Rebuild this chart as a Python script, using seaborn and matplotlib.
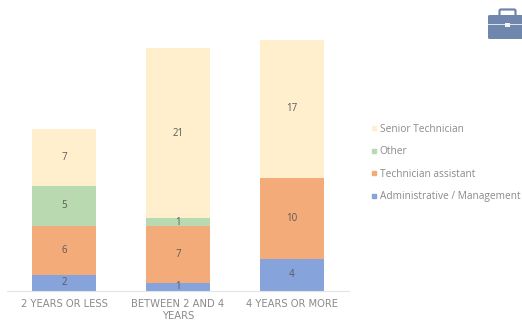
import matplotlib
matplotlib.use("Agg")
import matplotlib.pyplot as plt
from matplotlib.patches import FancyBboxPatch, Rectangle
from matplotlib.lines import Line2D
import numpy as np
import seaborn as sns

categories = ["2 YEARS OR LESS", "BETWEEN 2 AND 4\nYEARS", "4 YEARS OR MORE"]
administrative = [2, 1, 4]
technician_assistant = [6, 7, 10]
other = [5, 1, 0]
senior_technician = [7, 21, 17]

series_names = ["Administrative / Management", "Technician assistant", "Other", "Senior Technician"]
series_values = [administrative, technician_assistant, other, senior_technician]
series_colors = ["#86A3DC", "#F3AB7A", "#B9DAB0", "#FFEFCC"]

sns.set_theme(style="white")
plt.rcParams["font.family"] = ["Open Sans", "DejaVu Sans"]

W, H = 522, 323
fig = plt.figure(figsize=(W / 100, H / 100), dpi=100)
left, right, base, top = 7, 349, 291, 30
ax = fig.add_axes([left / W, 1 - base / H, (right - left) / W, (base - top) / H])

bottom = np.zeros(3)
for name, vals, col in zip(series_names, series_values, series_colors):
    vals = np.array(vals, dtype=float)
    sns.barplot(x=categories, y=vals, bottom=bottom, color=col, saturation=1,
                width=0.56, ax=ax, label=name, legend=False, linewidth=0)
    cont = ax.containers[-1]
    labels = [str(int(v)) if v > 0 else "" for v in vals]
    ax.bar_label(cont, labels=labels, label_type="center", fontsize=7, color="#5a5a5a")
    bottom += vals

ax.set_xlim(-0.5, 2.5)
ax.set_ylim(0, (base - top) / 8.1)
ax.set_yticks([])
ax.set_ylabel("")
for s in ["top", "left", "right"]:
    ax.spines[s].set_visible(False)
ax.spines["bottom"].set_color("#e4e4e4")
ax.spines["bottom"].set_linewidth(0.8)
ax.tick_params(axis="x", length=0, pad=6, labelsize=7.2, colors="#8a8a8a",
               labelfontfamily="DejaVu Sans")
for t in ax.get_xticklabels():
    t.set_linespacing(1.2)

# Legend, top entry first
handles = [Line2D([], [], linestyle="none", marker="s", markersize=3.2, color=c)
           for c in series_colors[::-1]]
fig.legend(handles, series_names[::-1], loc="upper left",
           bbox_to_anchor=(367.5 / W, 1 - 124 / H), bbox_transform=fig.transFigure,
           frameon=False, fontsize=7.3, labelcolor="#8a8a8a", handletextpad=0.0,
           handlelength=1.2, labelspacing=1.12, borderpad=0, borderaxespad=0)

# Briefcase icon in figure pixel units
icon = fig.add_axes([0, 0, 1, 1], facecolor="none")
icon.set_xlim(0, W); icon.set_ylim(H, 0); icon.axis("off")
ic = "#6F87AD"
icon.add_patch(FancyBboxPatch((499.5, 9.5), 16, 7, boxstyle="round,pad=0,rounding_size=1.5",
                              fc="none", ec=ic, lw=1.6))
icon.add_patch(FancyBboxPatch((488, 15), 36, 24, boxstyle="round,pad=0,rounding_size=1.5",
                              fc=ic, ec="none"))
icon.add_patch(Rectangle((488, 23.5), 34, 1.4, fc="#DDE3EC", ec="none"))
icon.add_patch(Rectangle((505, 22.5), 4.5, 4.5, fc="#F2F4F8", ec="none"))

fig.savefig("out.png", dpi=100, facecolor="white")
